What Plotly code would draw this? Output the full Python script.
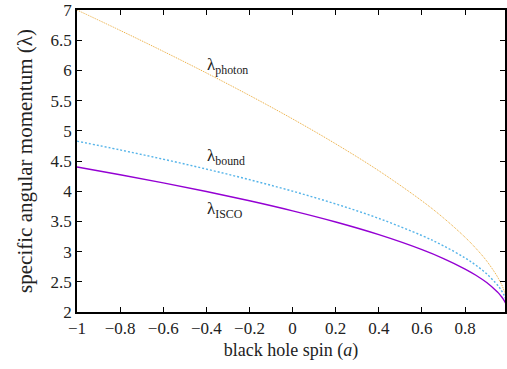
import plotly.graph_objects as go

spin = [-1.0, -0.8, -0.6, -0.4, -0.2, 0.0, 0.2, 0.4, 0.6, 0.7, 0.8, 0.85, 0.9, 0.95, 0.96, 0.97, 0.98, 0.99]
lam_photon = [7.0, 6.6625, 6.3156, 5.9576, 5.5857, 5.1962, 4.7831, 4.3376, 3.8389, 3.5568, 3.2369, 3.054, 2.8451, 2.5838, 2.5148, 2.4499, 2.3603, 2.2522]
lam_bound = [4.8284, 4.6833, 4.5298, 4.3664, 4.1909, 4.0, 3.7889, 3.5492, 3.2649, 3.0954, 2.8944, 2.7746, 2.6325, 2.4472, 2.4, 2.3464, 2.2828, 2.2]
lam_isco = [4.4, 4.2727, 4.1382, 3.9951, 3.8413, 3.6742, 3.4896, 3.2803, 3.0326, 2.8854, 2.7117, 2.6086, 2.4872, 2.3311, 2.2919, 2.2478, 2.1963, 2.131]

x_ticks = [-1, -0.8, -0.6, -0.4, -0.2, 0, 0.2, 0.4, 0.6, 0.8]
x_tick_text = ["\u22121", "\u22120.8", "\u22120.6", "\u22120.4", "\u22120.2", "0", "0.2", "0.4", "0.6", "0.8"]
y_ticks = [2, 2.5, 3, 3.5, 4, 4.5, 5, 5.5, 6, 6.5, 7]
y_tick_text = ["2", "2.5", "3", "3.5", "4", "4.5", "5", "5.5", "6", "6.5", "7"]

labels = ["\u03bb<sub>photon</sub>", "\u03bb<sub>bound</sub>", "\u03bb<sub>ISCO</sub>"]
label_x = [-0.405, -0.405, -0.405]
label_y = [6.07, 4.57, 3.69]

FONT = "Liberation Serif"

fig = go.Figure()
fig.add_trace(go.Scatter(x=spin, y=lam_photon, mode="lines", line_shape="spline",
                         line=dict(color="#eba832", width=1, dash="1px,1px"), showlegend=False))
fig.add_trace(go.Scatter(x=spin, y=lam_bound, mode="lines", line_shape="spline",
                         line=dict(color="#56b4e9", width=1.4, dash="2px,2px"), showlegend=False))
fig.add_trace(go.Scatter(x=spin, y=lam_isco, mode="lines", line_shape="spline",
                         line=dict(color="#9400d3", width=1.4), showlegend=False))

for t, xx, yy in zip(labels, label_x, label_y):
    fig.add_annotation(x=xx, y=yy, text=t, showarrow=False, xanchor="left", yanchor="middle",
                       font=dict(family=FONT, size=17, color="#222"))

fig.update_layout(
    width=507, height=369,
    margin=dict(l=77, r=0, t=10, b=57),
    paper_bgcolor="white", plot_bgcolor="white",
    font=dict(family=FONT, size=17, color="#222"),
)
fig.update_xaxes(range=[-1, 0.985], tickvals=x_ticks, ticktext=x_tick_text,
                 ticks="inside", ticklen=5, tickcolor="black", tickwidth=1,
                 showline=True, linecolor="black", linewidth=1.5, mirror="ticks",
                 showgrid=False, zeroline=False,
                 tickfont=dict(family=FONT, size=17),
                 title=dict(text="black hole spin (<i>a</i>)", font=dict(family=FONT, size=18), standoff=6))
fig.update_yaxes(range=[2, 7], tickvals=y_ticks, ticktext=y_tick_text,
                 ticks="inside", ticklen=5, tickcolor="black", tickwidth=1,
                 showline=True, linecolor="black", linewidth=1.5, mirror="ticks",
                 showgrid=False, zeroline=False,
                 tickfont=dict(family=FONT, size=17),
                 title=dict(text="specific angular momentum (\u03bb)", font=dict(family=FONT, size=21), standoff=12))

fig.write_html("out.html")
